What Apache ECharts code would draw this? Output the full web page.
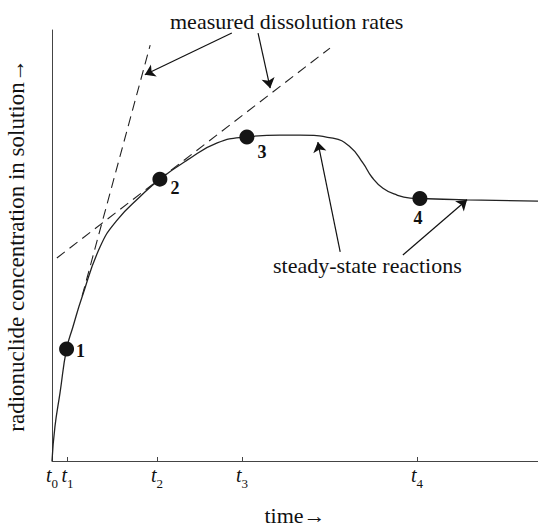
<!DOCTYPE html>
<html>
<head>
<meta charset="utf-8">
<script src="https://cdn.jsdelivr.net/npm/echarts@6/dist/echarts.min.js"></script>
<style>
html,body{margin:0;padding:0;background:#fff;}
#chart{width:538px;height:527px;}
</style>
</head>
<body>
<div id="chart"></div>
<script>
// ---- data (x = time units 0..100, y = concentration units 0..100)
const curveX = [0, 0.6, 1.65, 3.0, 4.3, 6.2, 9.9, 13.4, 18.1, 22.2, 27.8, 34.0, 40.1, 46.9, 51.0, 57.8, 61.3, 64.0, 65.8, 68.1, 71.0, 73.7, 75.7, 85.4, 100];
const curveY = [0, 7.9, 15.8, 26.0, 31.1, 38.1, 49.7, 55.9, 61.3, 65.4, 69.8, 73.8, 75.2, 75.6, 75.6, 74.9, 72.9, 69.1, 65.9, 63.3, 61.7, 61.0, 60.9, 60.6, 60.3];

const tangent1X = [6.2, 20.2];
const tangent1Y = [38.3, 96.5];
const tangent2X = [1.0, 57.2];
const tangent2Y = [47.1, 95.8];

const pointX = [3.0, 22.2, 40.1, 75.7];
const pointY = [26.0, 65.4, 75.2, 60.9];
const pointLabels = ['1', '2', '3', '4'];

const tickTimes = [0, 3.2, 21.6, 39.1, 75.1];
const tickSubs = ['0', '1', '2', '3', '4'];

const arrowFrom = [[37.0, 99.3], [42.4, 99.3], [59.3, 48.5], [72.2, 47.8]];
const arrowTo   = [[19.1, 89.6], [44.9, 86.5], [54.7, 74.0], [85.4, 60.6]];

const annotTexts = ['measured dissolution rates', 'steady-state reactions'];
const xName = 'time→';
const yName = 'radionuclide concentration in solution→';

// ---- chart
const FONT = 'Liberation Serif';
const chart = echarts.init(document.getElementById('chart'), null, {renderer: 'svg'});

const zip = (xs, ys) => xs.map((x, i) => [x, ys[i]]);
const labelOffsets = [[-3, 2], [-2, 9], [-2, 15], [-2, -2]];
const labelPos = ['right', 'right', 'right', 'bottom'];

chart.setOption({
  backgroundColor: '#fff',
  animation: false,
  grid: {left: 52, right: 0, top: 30, bottom: 66, containLabel: false, outerBoundsMode: 'none'},
  xAxis: {
    type: 'value', min: 0, max: 100,
    splitLine: {show: false},
    axisLine: {show: true, lineStyle: {color: '#444', width: 1}},
    axisTick: {show: true, inside: true, length: 4, customValues: tickTimes.slice(1), lineStyle: {color: '#444'}},
    axisLabel: {
      customValues: tickTimes,
      margin: 4,
      formatter: function (v) {
        let i = tickTimes.indexOf(v);
        if (i < 0) return '';
        return '{t|t}{s|' + tickSubs[i] + '}';
      },
      rich: {
        t: {fontFamily: FONT, fontStyle: 'italic', fontSize: 20, color: '#111', verticalAlign: 'bottom', padding: [0, 0, 5, 0]},
        s: {fontFamily: FONT, fontSize: 13, color: '#111', verticalAlign: 'bottom'}
      }
    },
    name: xName, nameLocation: 'middle', nameGap: 43,
    nameTextStyle: {fontFamily: FONT, fontSize: 22, color: '#111'}
  },
  yAxis: {
    type: 'value', min: 0, max: 100,
    splitLine: {show: false},
    axisLine: {show: true, lineStyle: {color: '#444', width: 1}},
    axisTick: {show: false},
    axisLabel: {show: false},
    name: yName, nameLocation: 'middle', nameGap: 24,
    nameTextStyle: {fontFamily: FONT, fontSize: 23, color: '#111'}
  },
  graphic: [
    {type: 'text', left: 170, top: 10, style: {text: annotTexts[0], font: '22px "Liberation Serif"', fill: '#111'}},
    {type: 'text', left: 273, top: 254, style: {text: annotTexts[1], font: '22px "Liberation Serif"', fill: '#111'}}
  ],
  series: [
    {
      type: 'line', data: zip(curveX, curveY), smooth: 0.5,
      showSymbol: false, lineStyle: {color: '#222', width: 1.3}, z: 3
    },
    {
      type: 'line', data: zip(tangent1X, tangent1Y), showSymbol: false,
      lineStyle: {color: '#222', width: 1.1, type: [10, 6]}, z: 2
    },
    {
      type: 'line', data: zip(tangent2X, tangent2Y), showSymbol: false,
      lineStyle: {color: '#222', width: 1.1, type: [10, 6]}, z: 2
    },
    {
      type: 'scatter', symbolSize: 15, z: 5,
      itemStyle: {color: '#151515', opacity: 1},
      data: pointX.map((x, i) => ({
        value: [x, pointY[i]],
        label: {show: true, formatter: pointLabels[i], position: labelPos[i], offset: labelOffsets[i],
          fontFamily: FONT, fontWeight: 'bold', fontSize: 18, color: '#111'}
      }))
    },
    {
      type: 'lines', coordinateSystem: 'cartesian2d', polyline: false,
      symbol: ['none', 'arrow'], symbolSize: [0, 10],
      lineStyle: {color: '#111', width: 1.2, opacity: 1},
      data: arrowFrom.map((f, i) => ({coords: [f, arrowTo[i]]})),
      z: 4
    }
  ]
});
</script>
</body>
</html>
